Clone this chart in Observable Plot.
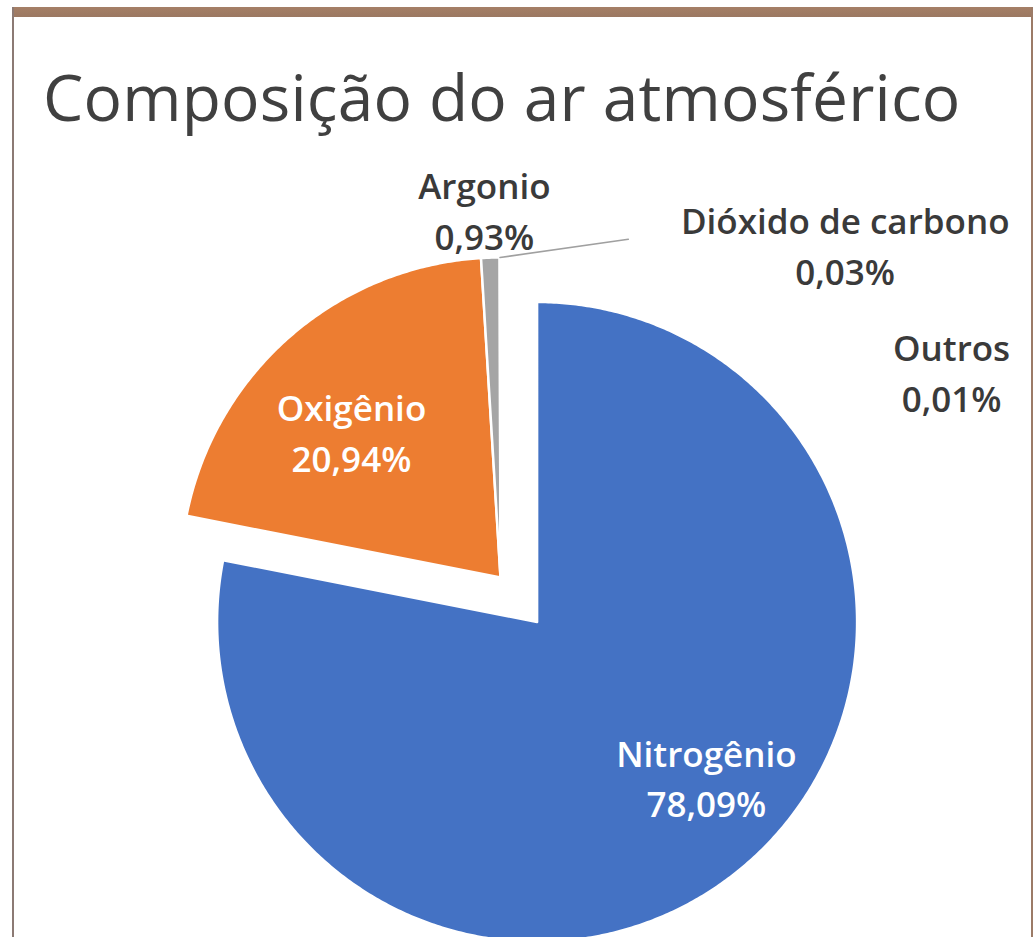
<!DOCTYPE html>
<html>
<head>
<meta charset="utf-8">
<script src="https://cdn.jsdelivr.net/npm/d3@7"></script>
<script src="https://cdn.jsdelivr.net/npm/@observablehq/plot@0.6"></script>
<style>
  html, body { margin: 0; padding: 0; background: #fff; }
  #frame { position: relative; width: 1036px; height: 937px; overflow: hidden; background: #fff; }
  #header { position: relative; height: 160px; }
  #title { position: absolute; left: 43px; top: 65px; margin: 0; font: 500 64px/64px "Open Sans", sans-serif; color: #404040; white-space: nowrap; letter-spacing: 0.2px; }
  #chart { position: absolute; left: 0; top: 160px; }
  #band { position: absolute; left: 12px; right: 3px; top: 7px; height: 10px; background: linear-gradient(#a57f66, #9b7862); }
  #lb { position: absolute; left: 12px; top: 7px; bottom: 0; width: 2px; background: #8c7a74; }
  #rb { position: absolute; left: 1031px; top: 7px; bottom: 0; width: 2px; background: #9c7b67; }
</style>
</head>
<body>
<div id="frame">
  <div id="header"><h1 id="title">Composição do ar atmosférico</h1></div>
  <div id="chart"></div>
  <div id="band"></div><div id="lb"></div><div id="rb"></div>
</div>
<script>
// ---- data ----
const categories = ["Nitrogênio", "Oxigênio", "Argonio", "Dióxido de carbono", "Outros"];
const values = [78.09, 20.94, 0.93, 0.03, 0.01];
const valueLabels = ["78,09%", "20,94%", "0,93%", "0,03%", "0,01%"];

// ---- style / layout ----
const colors = ["#4472c4", "#ed7d31", "#a5a5a5", "#ffc000", "#5b9bd5"];
const W = 1036, H = 777;
const cx = 500, cy = 417, R = 320;           // pie centre and radius in px
const explode = [0.18, 0, 0, 0, 0];           // explosion as a fraction of the radius
// label placement (polar, relative to pie centre): r in radii, a in degrees clockwise from 12 o'clock
const labelPlacement = [
  {r: 0.893, a: 133.9, light: true},
  {r: 0.654, a: 314.6, light: true},
  {r: 1.154, a: 357.5, light: false},
  {r: 1.500, a: 45.9, light: false},
  {r: 1.551, a: 65.35, light: false}
];
const leaderEnd = {series: 3, r: 1.13, a: 20.7};

const rad = d => d * Math.PI / 180;
const total = d3.sum(values);

// slice polygons from the values
const slices = [];
const mids = [];
let acc = 0;
values.forEach((v, i) => {
  const a0 = acc / total * 360, a1 = (acc + v) / total * 360;
  acc += v;
  const mid = (a0 + a1) / 2;
  mids.push(mid);
  const ox = explode[i] * Math.sin(rad(mid)), oy = explode[i] * Math.cos(rad(mid));
  slices.push({key: categories[i], x: ox, y: oy});
  const n = Math.max(2, Math.ceil((a1 - a0) / 0.5));
  for (let k = 0; k <= n; k++) {
    const a = a0 + (a1 - a0) * k / n;
    slices.push({key: categories[i], x: ox + Math.sin(rad(a)), y: oy + Math.cos(rad(a))});
  }
});

const labels = categories.map((c, i) => {
  const p = labelPlacement[i];
  return {text: c + "\n" + valueLabels[i], x: p.r * Math.sin(rad(p.a)), y: p.r * Math.cos(rad(p.a)), light: p.light};
});

const lm = mids[leaderEnd.series];
const leader = [
  {x: Math.sin(rad(lm)), y: Math.cos(rad(lm))},
  {x: leaderEnd.r * Math.sin(rad(leaderEnd.a)), y: leaderEnd.r * Math.cos(rad(leaderEnd.a))}
];

const textOpts = {
  x: "x", y: "y", text: "text",
  fontSize: 35, fontWeight: 600, fontFamily: "Open Sans",
  lineHeight: 1.45, lineAnchor: "middle", textAnchor: "middle"
};

const chart = Plot.plot({
  width: W, height: H, margin: 0,
  style: {fontFamily: "Open Sans", background: "transparent", overflow: "visible"},
  x: {domain: [(0 - cx) / R, (W - cx) / R], axis: null},
  y: {domain: [(cy - H) / R, cy / R], axis: null},
  color: {domain: categories, range: colors},
  marks: [
    Plot.line(slices, {x: "x", y: "y", z: "key", fill: "key", stroke: "white", strokeWidth: 2.5, curve: "linear-closed"}),
    Plot.line(leader, {x: "x", y: "y", stroke: "#a0a0a0", strokeWidth: 1.6}),
    Plot.text(labels.filter(d => d.light), {...textOpts, fill: "#ffffff"}),
    Plot.text(labels.filter(d => !d.light), {...textOpts, fill: "#3a3a3a"})
  ]
});
document.getElementById("chart").appendChild(chart);
</script>
</body>
</html>
